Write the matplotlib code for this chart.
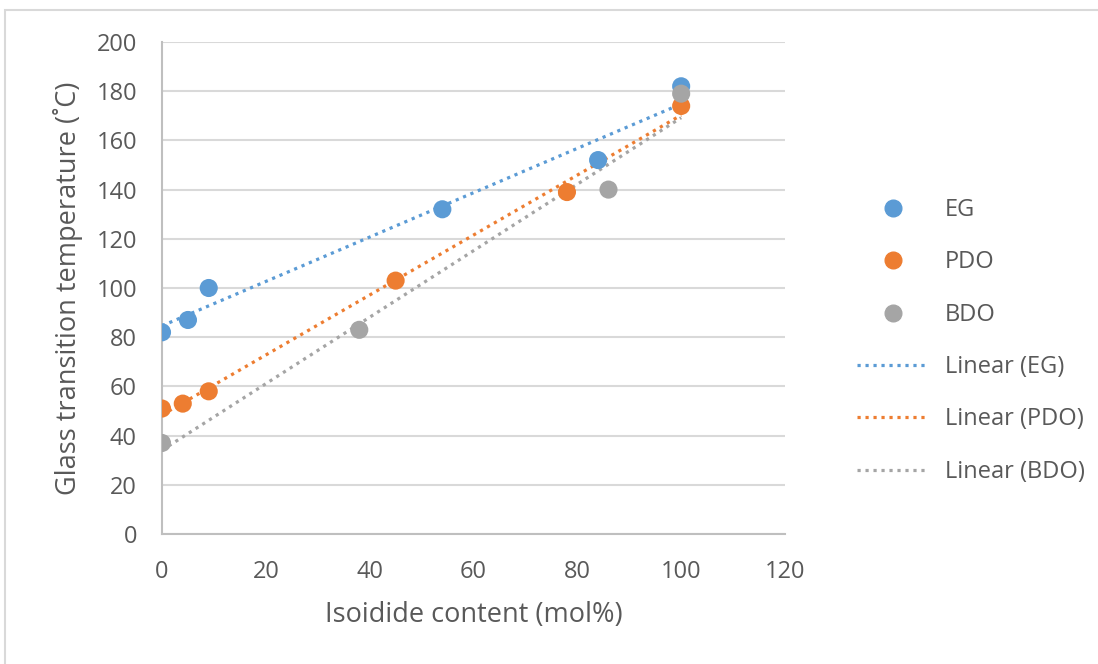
import numpy as np
import matplotlib.pyplot as plt
from matplotlib.patches import Rectangle
from matplotlib.lines import Line2D

# data
eg_x = [0, 5, 9, 54, 84, 100]
eg_y = [82, 87, 100, 132, 152, 182]
pdo_x = [0, 4, 9, 45, 78, 100]
pdo_y = [51, 53, 58, 103, 139, 174]
bdo_x = [0, 38, 86, 100]
bdo_y = [37, 83, 140, 179]

names = ['EG', 'PDO', 'BDO']
colors = ['#5B9BD5', '#ED7D31', '#A5A5A5']

plt.rcParams['font.family'] = ['Open Sans', 'DejaVu Sans']
txt = '#595959'
grid = '#D9D9D9'

fig = plt.figure(figsize=(10.98, 6.64), dpi=100)
ax = fig.add_axes([162/1098, 1 - 534/664, 623/1098, 492/664])

# frame around the chart
fig.patches.append(Rectangle((5/1098, -0.1), 1.2, (664-10)/664 + 0.1,
                             transform=fig.transFigure, fill=False,
                             edgecolor='#D9D9D9', lw=1.5, zorder=0))

series = [(eg_x, eg_y), (pdo_x, pdo_y), (bdo_x, bdo_y)]
for (xs, ys), c in zip(series, colors):
    k, b = np.polyfit(xs, ys, 1)
    xx = np.array([min(xs), max(xs)])
    ax.plot(xx, k * xx + b, color=c, lw=2.3, linestyle=(0, (1, 1.5)), zorder=2)
for (xs, ys), c in zip(series, colors):
    ax.scatter(xs, ys, s=170, color=c, edgecolors='none', zorder=3)

ax.set_xlim(0, 120)
ax.set_ylim(0, 200)
ax.set_xticks(range(0, 121, 20))
ax.set_yticks(range(0, 201, 20))
ax.grid(axis='y', color=grid, lw=1.5)
ax.set_axisbelow(True)
for s in ['top', 'right']:
    ax.spines[s].set_visible(False)
for s in ['left', 'bottom']:
    ax.spines[s].set_color('#BFBFBF')
    ax.spines[s].set_linewidth(1.5)
ax.tick_params(length=0, colors=txt, labelsize=17)
ax.tick_params(axis='y', pad=18)
ax.tick_params(axis='x', pad=19)
ax.set_xlabel('Isoidide content (mol%)', color=txt, fontsize=19.5)
ax.set_ylabel('Glass transition temperature (˚C)', color=txt, fontsize=19.5)
ax.xaxis.set_label_coords(0.5, -(615 - 534) / 492, transform=ax.transAxes)
ax.yaxis.set_label_coords(-(162 - 68) / 623, 0.5, transform=ax.transAxes)
ax.xaxis.label.set_va('center')
ax.yaxis.label.set_va('center')

handles = [Line2D([], [], marker='o', ls='none', color=c, markersize=12) for c in colors]
handles += [Line2D([], [], color=c, lw=2.3, linestyle=(0, (1, 1.5))) for c in colors]
labels = names + ['Linear (%s)' % n for n in names]
fig.legend(handles, labels, loc='center left', bbox_to_anchor=(836/1098, 1 - 341/664),
           frameon=False, fontsize=17, labelcolor=txt, labelspacing=1.2,
           handlelength=3.0, handletextpad=0.7)

fig.savefig('out.png', dpi=100)
